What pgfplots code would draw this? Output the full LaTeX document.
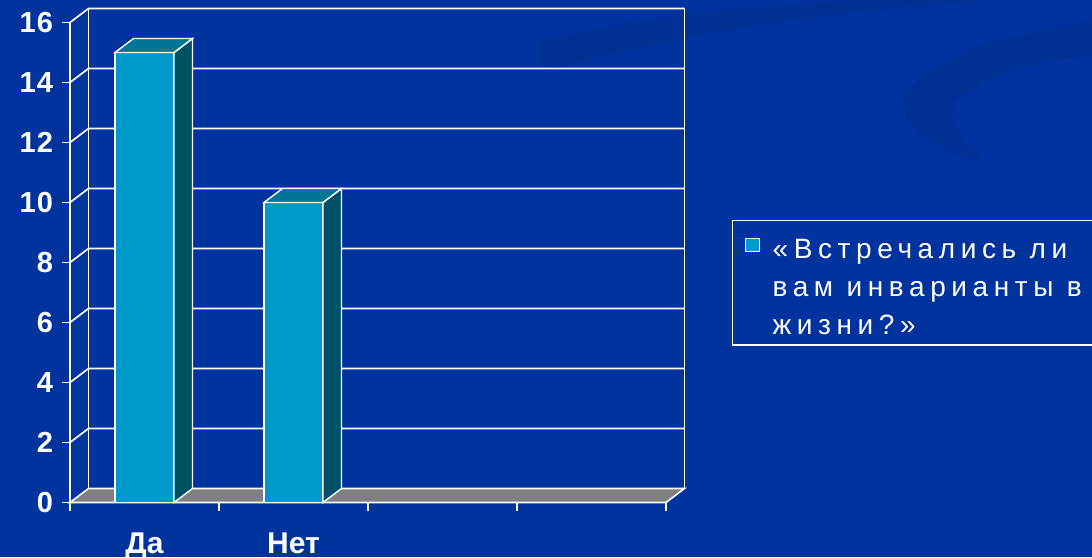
\documentclass[border=0pt]{standalone}
\usepackage{fontspec}
\setmainfont{Liberation Sans}
\newfontfamily\legfont{Liberation Sans}[LetterSpace=20]
\newfontfamily\tickfont{Liberation Sans}[LetterSpace=4]
\usepackage{pgfplots}
\usepackage{pgfplotstable}
\pgfplotsset{compat=1.18}

\definecolor{bg}{RGB}{0,51,158}
\definecolor{swirl}{RGB}{0,48,147}
\definecolor{barfront}{RGB}{0,153,204}
\definecolor{barside}{RGB}{0,80,102}
\definecolor{bartop}{RGB}{0,118,150}
\definecolor{floorgray}{RGB}{128,128,128}

\pgfdeclareplotmark{emptymark}{}

\pgfplotstableread{
x y
0.5 15
1.5 10
}\answers

\begin{document}
\begin{tikzpicture}
\fill[bg] (0,0) rectangle (546pt,278.5pt);
% faint background swirls (pixel coordinates, y downwards)
\begin{scope}[x=0.5pt, y=-0.5pt, yshift=278.5pt]
\fill[swirl] (540,42) .. controls (640,15) and (780,2) .. (900,0) -- (1000,0) .. controls (850,8) and (690,30) .. (540,72) -- cycle;
\fill[swirl] (1092,22) .. controls (1000,35) and (920,60) .. (903,100) .. controls (900,125) and (935,150) .. (985,162) .. controls (955,140) and (945,115) .. (958,98) .. controls (985,75) and (1040,60) .. (1092,55) -- cycle;
\end{scope}
\begin{axis}[
  at={(35pt,27.25pt)}, anchor=origin,
  x=74.5pt, y=15pt,
  xmin=0, xmax=4, ymin=0, ymax=16,
  clip=false,
  axis x line*=bottom, axis y line*=left,
  axis line style={white, line width=0.8pt},
  every tick/.style={white, line width=0.8pt},
  tick align=outside, major tick length=4pt,
  xtick={0,1,2,3,4}, xticklabels={},
  ytick={0,2,...,16},
  /pgf/number format/assume math mode=true,
  yticklabel style={font=\tickfont\bfseries\fontsize{14.5}{15}\selectfont, text=white, xshift=-1pt},
  extra x ticks={0.5,1.5},
  extra x tick labels={Да,Нет},
  extra x tick style={major tick length=0pt, xticklabel style={font=\bfseries\fontsize{15}{16}\selectfont, text=white, yshift=-11.5pt}},
  legend style={at={(rel axis cs:1.1107,0.5885)}, anchor=north west, draw=white, fill=none, text=white, line width=0.7pt, inner xsep=6pt, inner ysep=3pt, nodes={text depth={}}, cells={anchor=base west}},
  legend image code/.code={\draw[fill=barfront, draw=white, line width=0.5pt] (0pt,3.5pt) rectangle (7pt,10pt);},
]
% back wall gridlines and left wall diagonals
\pgfplotsinvokeforeach{2,4,6,8,10,12,14,16}{
  \draw[white, line width=0.85pt] (axis cs:0,#1) -- ++(9.25pt,7pt) -- ++(298pt,0pt);
}
\draw[white, line width=0.85pt] (axis cs:0,0) ++(9.25pt,7pt) -- ++(0pt,240pt);
\draw[white, line width=0.85pt] (axis cs:4,0) ++(9.25pt,7pt) -- ++(0pt,240pt);
% floor
\filldraw[fill=floorgray, draw=white, line width=0.8pt] (axis cs:0,0) -- (axis cs:4,0) -- ++(9.25pt,7pt) -- ++(-298pt,0pt) -- cycle;
% front faces
\addplot[ybar, bar width=29.5pt, fill=barfront, draw=white, line width=0.7pt] table[x=x, y=y] {\answers};
\addlegendentry{\hspace*{4.5pt}\parbox[t]{175pt}{\raggedright\legfont\fontsize{14}{19}\selectfont\rule{0pt}{14pt}«Встречались ли\\вам инварианты в\\жизни?»}}
% side and top faces
\addplot[forget plot, scatter, only marks, mark=emptymark,
  visualization depends on={rawy \as \rawv},
  scatter/@pre marker code/.code={
    \pgfmathsetmacro\hh{\rawv*15}
    \filldraw[fill=barside, draw=white, line width=0.7pt] (14.75pt,0pt) -- ++(9.25pt,7pt) -- ++(0pt,-\hh pt) -- (14.75pt,-\hh pt) -- cycle;
    \filldraw[fill=bartop, draw=white, line width=0.7pt] (-14.75pt,0pt) -- (14.75pt,0pt) -- ++(9.25pt,7pt) -- (-5.5pt,7pt) -- cycle;
  },
  scatter/@post marker code/.code={},
] table[x=x, y=y] {\answers};
\end{axis}
\pgfresetboundingbox
\path[use as bounding box] (0,0) rectangle (546pt,278.5pt);
\end{tikzpicture}
\end{document}
